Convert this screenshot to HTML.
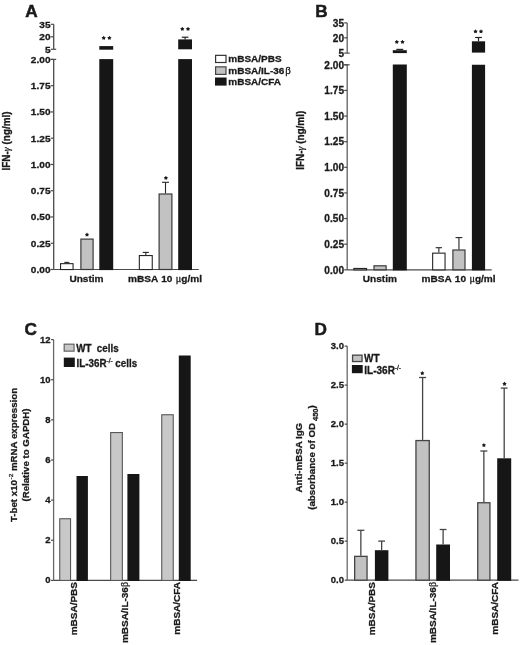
<!DOCTYPE html>
<html><head><meta charset="utf-8"><style>
html,body{margin:0;padding:0;background:#fff;}
body{width:520px;height:645px;overflow:hidden;}
svg{display:block;font-family:"Liberation Sans", sans-serif;}
#w{width:520px;height:645px;will-change:transform;}
text{stroke:#1a1a1a;stroke-width:0.3px;}
</style></head><body>
<div id="w"><svg width="520" height="645" viewBox="0 0 520 645">

<text transform="translate(25.20 17.30)" font-size="17.2" text-anchor="start" font-weight="bold" fill="#1a1a1a" style="stroke-width:0.5px">A</text>
<line x1="53.70" y1="24.30" x2="53.70" y2="49.30" stroke="#4a4a4a" stroke-width="1.3"/>
<line x1="50.70" y1="24.30" x2="53.70" y2="24.30" stroke="#4a4a4a" stroke-width="1.2"/>
<text transform="translate(50.50 27.81) scale(1.0 0.97)" font-size="10.1" text-anchor="end" font-weight="bold" fill="#1a1a1a">35</text>
<line x1="50.70" y1="36.80" x2="53.70" y2="36.80" stroke="#4a4a4a" stroke-width="1.2"/>
<text transform="translate(50.50 40.31) scale(1.0 0.97)" font-size="10.1" text-anchor="end" font-weight="bold" fill="#1a1a1a">20</text>
<line x1="50.70" y1="49.30" x2="53.70" y2="49.30" stroke="#4a4a4a" stroke-width="1.2"/>
<text transform="translate(50.50 52.81) scale(1.0 0.97)" font-size="10.1" text-anchor="end" font-weight="bold" fill="#1a1a1a">5</text>
<line x1="53.70" y1="49.30" x2="56.20" y2="49.30" stroke="#4a4a4a" stroke-width="1.2"/>
<line x1="53.70" y1="59.40" x2="53.70" y2="269.50" stroke="#4a4a4a" stroke-width="1.3"/>
<line x1="50.70" y1="59.40" x2="56.20" y2="59.40" stroke="#4a4a4a" stroke-width="1.2"/>
<line x1="50.70" y1="269.50" x2="53.70" y2="269.50" stroke="#4a4a4a" stroke-width="1.2"/>
<text transform="translate(50.50 273.01) scale(1.0 0.97)" font-size="10.1" text-anchor="end" font-weight="bold" fill="#1a1a1a">0.00</text>
<line x1="50.70" y1="243.24" x2="53.70" y2="243.24" stroke="#4a4a4a" stroke-width="1.2"/>
<text transform="translate(50.50 246.75) scale(1.0 0.97)" font-size="10.1" text-anchor="end" font-weight="bold" fill="#1a1a1a">0.25</text>
<line x1="50.70" y1="216.97" x2="53.70" y2="216.97" stroke="#4a4a4a" stroke-width="1.2"/>
<text transform="translate(50.50 220.48) scale(1.0 0.97)" font-size="10.1" text-anchor="end" font-weight="bold" fill="#1a1a1a">0.50</text>
<line x1="50.70" y1="190.71" x2="53.70" y2="190.71" stroke="#4a4a4a" stroke-width="1.2"/>
<text transform="translate(50.50 194.22) scale(1.0 0.97)" font-size="10.1" text-anchor="end" font-weight="bold" fill="#1a1a1a">0.75</text>
<line x1="50.70" y1="164.45" x2="53.70" y2="164.45" stroke="#4a4a4a" stroke-width="1.2"/>
<text transform="translate(50.50 167.96) scale(1.0 0.97)" font-size="10.1" text-anchor="end" font-weight="bold" fill="#1a1a1a">1.00</text>
<line x1="50.70" y1="138.19" x2="53.70" y2="138.19" stroke="#4a4a4a" stroke-width="1.2"/>
<text transform="translate(50.50 141.70) scale(1.0 0.97)" font-size="10.1" text-anchor="end" font-weight="bold" fill="#1a1a1a">1.25</text>
<line x1="50.70" y1="111.93" x2="53.70" y2="111.93" stroke="#4a4a4a" stroke-width="1.2"/>
<text transform="translate(50.50 115.44) scale(1.0 0.97)" font-size="10.1" text-anchor="end" font-weight="bold" fill="#1a1a1a">1.50</text>
<line x1="50.70" y1="85.66" x2="53.70" y2="85.66" stroke="#4a4a4a" stroke-width="1.2"/>
<text transform="translate(50.50 89.17) scale(1.0 0.97)" font-size="10.1" text-anchor="end" font-weight="bold" fill="#1a1a1a">1.75</text>
<line x1="50.70" y1="59.40" x2="53.70" y2="59.40" stroke="#4a4a4a" stroke-width="1.2"/>
<text transform="translate(50.50 62.91) scale(1.0 0.97)" font-size="10.1" text-anchor="end" font-weight="bold" fill="#1a1a1a">2.00</text>
<line x1="53.70" y1="269.50" x2="198.80" y2="269.50" stroke="#4a4a4a" stroke-width="1.2"/>
<rect x="60.55" y="263.65" width="12.50" height="5.90" fill="#ffffff" stroke="#262626" stroke-width="1.1"/>
<line x1="66.80" y1="262.40" x2="66.80" y2="263.10" stroke="#262626" stroke-width="1.1"/>
<line x1="64.30" y1="262.40" x2="69.30" y2="262.40" stroke="#262626" stroke-width="1.1"/>
<rect x="80.90" y="239.10" width="12.20" height="30.40" fill="#c2c2c2" stroke="#3a3a3a" stroke-width="1.2"/>
<rect x="99.30" y="59.10" width="13.90" height="211.00" fill="#161616"/>
<rect x="99.30" y="46.10" width="13.90" height="3.60" fill="#161616"/>
<rect x="139.35" y="255.55" width="12.90" height="14.00" fill="#ffffff" stroke="#262626" stroke-width="1.1"/>
<line x1="145.80" y1="252.40" x2="145.80" y2="255.00" stroke="#262626" stroke-width="1.1"/>
<line x1="142.70" y1="252.40" x2="148.90" y2="252.40" stroke="#262626" stroke-width="1.1"/>
<rect x="159.10" y="194.00" width="12.80" height="75.50" fill="#c2c2c2" stroke="#3a3a3a" stroke-width="1.2"/>
<line x1="165.50" y1="182.30" x2="165.50" y2="193.40" stroke="#262626" stroke-width="1.1"/>
<line x1="162.00" y1="182.30" x2="169.00" y2="182.30" stroke="#262626" stroke-width="1.1"/>
<rect x="178.20" y="59.10" width="13.80" height="211.00" fill="#161616"/>
<rect x="178.20" y="39.40" width="13.80" height="9.90" fill="#161616"/>
<line x1="185.10" y1="37.20" x2="185.10" y2="39.40" stroke="#222" stroke-width="1.2"/>
<line x1="181.80" y1="37.20" x2="188.40" y2="37.20" stroke="#222" stroke-width="1.2"/>
<polygon points="87.00,232.50 87.78,233.63 89.09,234.02 88.26,235.11 88.29,236.48 87.00,236.02 85.71,236.48 85.74,235.11 84.91,234.02 86.22,233.63" fill="#1a1a1a"/>
<polygon points="103.70,35.80 104.48,36.93 105.79,37.32 104.96,38.41 104.99,39.78 103.70,39.32 102.41,39.78 102.44,38.41 101.61,37.32 102.92,36.93" fill="#1a1a1a"/>
<polygon points="109.40,35.80 110.18,36.93 111.49,37.32 110.66,38.41 110.69,39.78 109.40,39.32 108.11,39.78 108.14,38.41 107.31,37.32 108.62,36.93" fill="#1a1a1a"/>
<polygon points="165.90,175.80 166.68,176.93 167.99,177.32 167.16,178.41 167.19,179.78 165.90,179.32 164.61,179.78 164.64,178.41 163.81,177.32 165.12,176.93" fill="#1a1a1a"/>
<polygon points="182.30,26.80 183.08,27.93 184.39,28.32 183.56,29.41 183.59,30.78 182.30,30.32 181.01,30.78 181.04,29.41 180.21,28.32 181.52,27.93" fill="#1a1a1a"/>
<polygon points="188.00,26.80 188.78,27.93 190.09,28.32 189.26,29.41 189.29,30.78 188.00,30.32 186.71,30.78 186.74,29.41 185.91,28.32 187.22,27.93" fill="#1a1a1a"/>
<text transform="translate(9.80 140.90) rotate(-90) scale(1.0 1.03)" font-size="9.95" text-anchor="middle" font-weight="bold" fill="#1a1a1a">IFN-<tspan font-family="Liberation Serif" font-style="italic" font-weight="normal">γ</tspan> (ng/ml)</text>
<text transform="translate(315.30 17.10)" font-size="17.2" text-anchor="start" font-weight="bold" fill="#1a1a1a" style="stroke-width:0.5px">B</text>
<line x1="347.20" y1="22.90" x2="347.20" y2="53.10" stroke="#606060" stroke-width="1.3"/>
<line x1="344.20" y1="22.90" x2="347.20" y2="22.90" stroke="#4a4a4a" stroke-width="1.2"/>
<text transform="translate(344.00 26.61) scale(1.0 1.02)" font-size="10.1" text-anchor="end" font-weight="bold" fill="#1a1a1a">35</text>
<line x1="344.20" y1="37.80" x2="347.20" y2="37.80" stroke="#4a4a4a" stroke-width="1.2"/>
<text transform="translate(344.00 41.51) scale(1.0 1.02)" font-size="10.1" text-anchor="end" font-weight="bold" fill="#1a1a1a">20</text>
<line x1="344.20" y1="53.10" x2="347.20" y2="53.10" stroke="#4a4a4a" stroke-width="1.2"/>
<text transform="translate(344.00 56.81) scale(1.0 1.02)" font-size="10.1" text-anchor="end" font-weight="bold" fill="#1a1a1a">5</text>
<line x1="347.20" y1="53.10" x2="349.70" y2="53.10" stroke="#4a4a4a" stroke-width="1.2"/>
<line x1="347.20" y1="64.80" x2="347.20" y2="269.80" stroke="#606060" stroke-width="1.3"/>
<line x1="344.20" y1="64.80" x2="349.70" y2="64.80" stroke="#4a4a4a" stroke-width="1.2"/>
<line x1="344.20" y1="269.80" x2="347.20" y2="269.80" stroke="#4a4a4a" stroke-width="1.2"/>
<text transform="translate(344.00 273.51) scale(1.0 1.02)" font-size="10.1" text-anchor="end" font-weight="bold" fill="#1a1a1a">0.00</text>
<line x1="344.20" y1="244.18" x2="347.20" y2="244.18" stroke="#4a4a4a" stroke-width="1.2"/>
<text transform="translate(344.00 247.89) scale(1.0 1.02)" font-size="10.1" text-anchor="end" font-weight="bold" fill="#1a1a1a">0.25</text>
<line x1="344.20" y1="218.55" x2="347.20" y2="218.55" stroke="#4a4a4a" stroke-width="1.2"/>
<text transform="translate(344.00 222.26) scale(1.0 1.02)" font-size="10.1" text-anchor="end" font-weight="bold" fill="#1a1a1a">0.50</text>
<line x1="344.20" y1="192.93" x2="347.20" y2="192.93" stroke="#4a4a4a" stroke-width="1.2"/>
<text transform="translate(344.00 196.64) scale(1.0 1.02)" font-size="10.1" text-anchor="end" font-weight="bold" fill="#1a1a1a">0.75</text>
<line x1="344.20" y1="167.30" x2="347.20" y2="167.30" stroke="#4a4a4a" stroke-width="1.2"/>
<text transform="translate(344.00 171.01) scale(1.0 1.02)" font-size="10.1" text-anchor="end" font-weight="bold" fill="#1a1a1a">1.00</text>
<line x1="344.20" y1="141.68" x2="347.20" y2="141.68" stroke="#4a4a4a" stroke-width="1.2"/>
<text transform="translate(344.00 145.39) scale(1.0 1.02)" font-size="10.1" text-anchor="end" font-weight="bold" fill="#1a1a1a">1.25</text>
<line x1="344.20" y1="116.05" x2="347.20" y2="116.05" stroke="#4a4a4a" stroke-width="1.2"/>
<text transform="translate(344.00 119.76) scale(1.0 1.02)" font-size="10.1" text-anchor="end" font-weight="bold" fill="#1a1a1a">1.50</text>
<line x1="344.20" y1="90.43" x2="347.20" y2="90.43" stroke="#4a4a4a" stroke-width="1.2"/>
<text transform="translate(344.00 94.14) scale(1.0 1.02)" font-size="10.1" text-anchor="end" font-weight="bold" fill="#1a1a1a">1.75</text>
<line x1="344.20" y1="64.80" x2="347.20" y2="64.80" stroke="#4a4a4a" stroke-width="1.2"/>
<text transform="translate(344.00 68.51) scale(1.0 1.02)" font-size="10.1" text-anchor="end" font-weight="bold" fill="#1a1a1a">2.00</text>
<line x1="347.20" y1="269.80" x2="491.70" y2="269.80" stroke="#4a4a4a" stroke-width="1.2"/>
<rect x="353.85" y="268.45" width="12.70" height="1.40" fill="#ffffff" stroke="#262626" stroke-width="1.1"/>
<rect x="374.00" y="265.80" width="12.10" height="4.00" fill="#c2c2c2" stroke="#3a3a3a" stroke-width="1.2"/>
<rect x="392.80" y="64.50" width="14.00" height="205.90" fill="#161616"/>
<rect x="392.80" y="50.20" width="14.00" height="2.90" fill="#161616"/>
<line x1="399.80" y1="49.40" x2="399.80" y2="50.20" stroke="#222" stroke-width="1.2"/>
<line x1="396.30" y1="49.40" x2="403.30" y2="49.40" stroke="#222" stroke-width="1.2"/>
<rect x="432.65" y="253.15" width="12.40" height="16.70" fill="#ffffff" stroke="#262626" stroke-width="1.1"/>
<line x1="438.85" y1="247.70" x2="438.85" y2="252.60" stroke="#262626" stroke-width="1.1"/>
<line x1="435.65" y1="247.70" x2="442.05" y2="247.70" stroke="#262626" stroke-width="1.1"/>
<rect x="452.90" y="250.00" width="12.10" height="19.80" fill="#c2c2c2" stroke="#3a3a3a" stroke-width="1.2"/>
<line x1="458.95" y1="237.60" x2="458.95" y2="249.40" stroke="#262626" stroke-width="1.1"/>
<line x1="455.55" y1="237.60" x2="462.35" y2="237.60" stroke="#262626" stroke-width="1.1"/>
<rect x="471.90" y="64.75" width="13.20" height="205.65" fill="#161616"/>
<rect x="471.90" y="41.30" width="13.20" height="11.30" fill="#161616"/>
<line x1="478.50" y1="37.50" x2="478.50" y2="41.30" stroke="#222" stroke-width="1.2"/>
<line x1="475.10" y1="37.50" x2="481.90" y2="37.50" stroke="#222" stroke-width="1.2"/>
<polygon points="396.80,39.80 397.58,40.93 398.89,41.32 398.06,42.41 398.09,43.78 396.80,43.32 395.51,43.78 395.54,42.41 394.71,41.32 396.02,40.93" fill="#1a1a1a"/>
<polygon points="402.50,39.80 403.28,40.93 404.59,41.32 403.76,42.41 403.79,43.78 402.50,43.32 401.21,43.78 401.24,42.41 400.41,41.32 401.72,40.93" fill="#1a1a1a"/>
<polygon points="475.50,29.30 476.28,30.43 477.59,30.82 476.76,31.91 476.79,33.28 475.50,32.82 474.21,33.28 474.24,31.91 473.41,30.82 474.72,30.43" fill="#1a1a1a"/>
<polygon points="481.00,29.30 481.78,30.43 483.09,30.82 482.26,31.91 482.29,33.28 481.00,32.82 479.71,33.28 479.74,31.91 478.91,30.82 480.22,30.43" fill="#1a1a1a"/>
<text transform="translate(304.20 140.30) rotate(-90) scale(1.0 1.1)" font-size="9.95" text-anchor="middle" font-weight="bold" fill="#1a1a1a">IFN-<tspan font-family="Liberation Serif" font-style="italic" font-weight="normal">γ</tspan> (ng/ml)</text>
<rect x="215.60" y="55.35" width="10.40" height="7.15" fill="#ffffff" stroke="#333" stroke-width="1.2"/>
<text transform="translate(228.30 62.30) scale(1.0 0.97)" font-size="10.0" text-anchor="start" font-weight="bold" fill="#1a1a1a">mBSA/PBS</text>
<rect x="215.60" y="66.85" width="10.40" height="7.55" fill="#c2c2c2" stroke="#444444" stroke-width="1.2"/>
<text transform="translate(228.30 74.20) scale(1.0 0.97)" font-size="10.0" text-anchor="start" font-weight="bold" fill="#1a1a1a">mBSA/IL-36<tspan font-family="Liberation Serif" font-weight="normal" font-size="11" dx="0.8">β</tspan></text>
<rect x="215.00" y="77.50" width="11.60" height="8.10" fill="#161616"/>
<text transform="translate(228.30 84.80) scale(1.0 0.97)" font-size="10.0" text-anchor="start" font-weight="bold" fill="#1a1a1a">mBSA/CFA</text>
<text transform="translate(86.50 281.80) scale(1.0 0.98)" font-size="10.1" text-anchor="middle" font-weight="bold" fill="#1a1a1a">Unstim</text>
<text transform="translate(165.00 281.80) scale(1.0 0.98)" font-size="10.1" text-anchor="middle" font-weight="bold" fill="#1a1a1a" word-spacing="0.6">mBSA 10 <tspan font-family="Liberation Serif" font-weight="normal">μ</tspan>g/ml</text>
<text transform="translate(379.90 282.00) scale(1.0 0.98)" font-size="10.1" text-anchor="middle" font-weight="bold" fill="#1a1a1a">Unstim</text>
<text transform="translate(458.60 282.00) scale(1.0 0.98)" font-size="10.1" text-anchor="middle" font-weight="bold" fill="#1a1a1a" word-spacing="0.6">mBSA 10 <tspan font-family="Liberation Serif" font-weight="normal">μ</tspan>g/ml</text>
<text transform="translate(24.40 334.60)" font-size="17.2" text-anchor="start" font-weight="bold" fill="#1a1a1a" style="stroke-width:0.5px">C</text>
<line x1="53.60" y1="339.60" x2="53.60" y2="580.40" stroke="#686868" stroke-width="1.3"/>
<line x1="51.10" y1="580.40" x2="53.60" y2="580.40" stroke="#4a4a4a" stroke-width="1.2"/>
<text transform="translate(50.60 583.40)" font-size="9.5" text-anchor="end" font-weight="bold" fill="#1a1a1a">0</text>
<line x1="51.10" y1="540.27" x2="53.60" y2="540.27" stroke="#4a4a4a" stroke-width="1.2"/>
<text transform="translate(50.60 543.27)" font-size="9.5" text-anchor="end" font-weight="bold" fill="#1a1a1a">2</text>
<line x1="51.10" y1="500.13" x2="53.60" y2="500.13" stroke="#4a4a4a" stroke-width="1.2"/>
<text transform="translate(50.60 503.13)" font-size="9.5" text-anchor="end" font-weight="bold" fill="#1a1a1a">4</text>
<line x1="51.10" y1="460.00" x2="53.60" y2="460.00" stroke="#4a4a4a" stroke-width="1.2"/>
<text transform="translate(50.60 463.00)" font-size="9.5" text-anchor="end" font-weight="bold" fill="#1a1a1a">6</text>
<line x1="51.10" y1="419.87" x2="53.60" y2="419.87" stroke="#4a4a4a" stroke-width="1.2"/>
<text transform="translate(50.60 422.87)" font-size="9.5" text-anchor="end" font-weight="bold" fill="#1a1a1a">8</text>
<line x1="51.10" y1="379.73" x2="53.60" y2="379.73" stroke="#4a4a4a" stroke-width="1.2"/>
<text transform="translate(50.60 382.73)" font-size="9.5" text-anchor="end" font-weight="bold" fill="#1a1a1a">10</text>
<line x1="51.10" y1="339.60" x2="53.60" y2="339.60" stroke="#4a4a4a" stroke-width="1.2"/>
<text transform="translate(50.60 342.60)" font-size="9.5" text-anchor="end" font-weight="bold" fill="#1a1a1a">12</text>
<line x1="53.60" y1="580.40" x2="197.10" y2="580.40" stroke="#4a4a4a" stroke-width="1.2"/>
<rect x="59.75" y="518.75" width="10.80" height="61.70" fill="#c8c8c8" stroke="#585858" stroke-width="1.1"/>
<rect x="110.65" y="432.55" width="11.70" height="147.90" fill="#c8c8c8" stroke="#585858" stroke-width="1.1"/>
<rect x="161.75" y="414.75" width="11.50" height="165.70" fill="#c8c8c8" stroke="#585858" stroke-width="1.1"/>
<rect x="76.50" y="476.00" width="11.40" height="105.00" fill="#161616"/>
<rect x="127.40" y="474.00" width="12.00" height="107.00" fill="#161616"/>
<rect x="178.80" y="355.50" width="11.90" height="225.50" fill="#161616"/>
<rect x="64.15" y="344.15" width="9.90" height="7.00" fill="#c8c8c8" stroke="#585858" stroke-width="1.1"/>
<rect x="63.80" y="357.60" width="11.00" height="9.40" fill="#161616"/>
<text transform="translate(76.20 351.50) scale(1.0 1.02)" font-size="9.8" text-anchor="start" font-weight="bold" fill="#1a1a1a">WT&#160; cells</text>
<text transform="translate(76.60 366.80) scale(1.0 1.02)" font-size="9.8" text-anchor="start" font-weight="bold" fill="#1a1a1a">IL-36R<tspan font-size="6.5" font-weight="normal" dy="-4">-/-</tspan><tspan dy="4"> cells</tspan></text>
<text transform="translate(17.40 455.00) rotate(-90) scale(1.0 0.93)" font-size="9.7" text-anchor="middle" font-weight="bold" fill="#1a1a1a">T-bet x10<tspan font-size="6.5" font-weight="normal" dx="0.5" dy="-4.8">-2</tspan><tspan dy="4.8"> mRNA expression</tspan></text>
<text transform="translate(29.20 455.00) rotate(-90) scale(1.0 0.93)" font-size="9.7" text-anchor="middle" font-weight="bold" fill="#1a1a1a">(Relative to GAPDH)</text>
<text transform="translate(77.00 582.00) rotate(-90) scale(1.0 0.93)" font-size="10.0" text-anchor="end" font-weight="bold" fill="#1a1a1a">mBSA/PBS</text>
<text transform="translate(128.20 582.00) rotate(-90) scale(1.0 0.93)" font-size="10.0" text-anchor="end" font-weight="bold" fill="#1a1a1a">mBSA/IL-36<tspan font-family="Liberation Serif" font-weight="normal">β</tspan></text>
<text transform="translate(179.50 582.00) rotate(-90) scale(1.0 0.93)" font-size="10.0" text-anchor="end" font-weight="bold" fill="#1a1a1a">mBSA/CFA</text>
<text transform="translate(314.40 334.80)" font-size="17.2" text-anchor="start" font-weight="bold" fill="#1a1a1a" style="stroke-width:0.5px">D</text>
<line x1="347.20" y1="346.10" x2="347.20" y2="580.20" stroke="#686868" stroke-width="1.3"/>
<line x1="344.70" y1="580.20" x2="347.20" y2="580.20" stroke="#4a4a4a" stroke-width="1.2"/>
<text transform="translate(344.00 583.20)" font-size="9.5" text-anchor="end" font-weight="bold" fill="#1a1a1a">0.0</text>
<line x1="344.70" y1="541.18" x2="347.20" y2="541.18" stroke="#4a4a4a" stroke-width="1.2"/>
<text transform="translate(344.00 544.18)" font-size="9.5" text-anchor="end" font-weight="bold" fill="#1a1a1a">0.5</text>
<line x1="344.70" y1="502.17" x2="347.20" y2="502.17" stroke="#4a4a4a" stroke-width="1.2"/>
<text transform="translate(344.00 505.17)" font-size="9.5" text-anchor="end" font-weight="bold" fill="#1a1a1a">1.0</text>
<line x1="344.70" y1="463.15" x2="347.20" y2="463.15" stroke="#4a4a4a" stroke-width="1.2"/>
<text transform="translate(344.00 466.15)" font-size="9.5" text-anchor="end" font-weight="bold" fill="#1a1a1a">1.5</text>
<line x1="344.70" y1="424.13" x2="347.20" y2="424.13" stroke="#4a4a4a" stroke-width="1.2"/>
<text transform="translate(344.00 427.13)" font-size="9.5" text-anchor="end" font-weight="bold" fill="#1a1a1a">2.0</text>
<line x1="344.70" y1="385.12" x2="347.20" y2="385.12" stroke="#4a4a4a" stroke-width="1.2"/>
<text transform="translate(344.00 388.12)" font-size="9.5" text-anchor="end" font-weight="bold" fill="#1a1a1a">2.5</text>
<line x1="344.70" y1="346.10" x2="347.20" y2="346.10" stroke="#4a4a4a" stroke-width="1.2"/>
<text transform="translate(344.00 349.10)" font-size="9.5" text-anchor="end" font-weight="bold" fill="#1a1a1a">3.0</text>
<line x1="347.20" y1="580.20" x2="518.50" y2="580.20" stroke="#4a4a4a" stroke-width="1.2"/>
<rect x="354.65" y="556.35" width="12.40" height="23.80" fill="#c2c2c2" stroke="#444444" stroke-width="1.3"/>
<line x1="360.85" y1="530.30" x2="360.85" y2="555.70" stroke="#454545" stroke-width="1.3"/>
<line x1="357.35" y1="530.30" x2="364.35" y2="530.30" stroke="#454545" stroke-width="1.3"/>
<rect x="415.95" y="440.55" width="13.30" height="139.60" fill="#c2c2c2" stroke="#444444" stroke-width="1.3"/>
<line x1="422.60" y1="377.50" x2="422.60" y2="439.90" stroke="#454545" stroke-width="1.3"/>
<line x1="419.10" y1="377.50" x2="426.10" y2="377.50" stroke="#454545" stroke-width="1.3"/>
<rect x="477.75" y="502.75" width="12.20" height="77.40" fill="#c2c2c2" stroke="#444444" stroke-width="1.3"/>
<line x1="483.85" y1="451.00" x2="483.85" y2="502.10" stroke="#454545" stroke-width="1.3"/>
<line x1="480.35" y1="451.00" x2="487.35" y2="451.00" stroke="#454545" stroke-width="1.3"/>
<rect x="374.90" y="550.20" width="13.50" height="30.60" fill="#161616"/>
<line x1="381.65" y1="541.10" x2="381.65" y2="550.20" stroke="#454545" stroke-width="1.3"/>
<line x1="378.25" y1="541.10" x2="385.05" y2="541.10" stroke="#454545" stroke-width="1.3"/>
<rect x="436.20" y="544.50" width="13.80" height="36.30" fill="#161616"/>
<line x1="443.10" y1="529.50" x2="443.10" y2="544.50" stroke="#454545" stroke-width="1.3"/>
<line x1="439.70" y1="529.50" x2="446.50" y2="529.50" stroke="#454545" stroke-width="1.3"/>
<rect x="497.20" y="458.30" width="14.00" height="122.50" fill="#161616"/>
<line x1="504.20" y1="388.10" x2="504.20" y2="458.30" stroke="#454545" stroke-width="1.3"/>
<line x1="500.80" y1="388.10" x2="507.60" y2="388.10" stroke="#454545" stroke-width="1.3"/>
<polygon points="422.30,371.00 423.08,372.13 424.39,372.52 423.56,373.61 423.59,374.98 422.30,374.52 421.01,374.98 421.04,373.61 420.21,372.52 421.52,372.13" fill="#1a1a1a"/>
<polygon points="483.90,443.00 484.68,444.13 485.99,444.52 485.16,445.61 485.19,446.98 483.90,446.52 482.61,446.98 482.64,445.61 481.81,444.52 483.12,444.13" fill="#1a1a1a"/>
<polygon points="504.50,381.70 505.28,382.83 506.59,383.22 505.76,384.31 505.79,385.68 504.50,385.22 503.21,385.68 503.24,384.31 502.41,383.22 503.72,382.83" fill="#1a1a1a"/>
<rect x="352.55" y="355.15" width="9.50" height="6.40" fill="#c2c2c2" stroke="#444444" stroke-width="1.3"/>
<rect x="351.90" y="365.00" width="10.80" height="8.20" fill="#161616"/>
<text transform="translate(364.00 362.00)" font-size="10.0" text-anchor="start" font-weight="bold" fill="#1a1a1a">WT</text>
<text transform="translate(364.30 373.60)" font-size="10.0" text-anchor="start" font-weight="bold" fill="#1a1a1a">IL-36R<tspan font-size="6.5" font-weight="normal" dy="-4">-/-</tspan></text>
<text transform="translate(301.60 457.70) rotate(-90) scale(1.0 0.93)" font-size="9.7" text-anchor="middle" font-weight="bold" fill="#1a1a1a">Anti-mBSA IgG</text>
<text transform="translate(315.10 457.50) rotate(-90) scale(1.0 0.93)" font-size="9.7" text-anchor="middle" font-weight="bold" fill="#1a1a1a">(absorbance of OD<tspan font-size="7.5" dy="2.8"> 450</tspan><tspan dy="-2.8">)</tspan></text>
<text transform="translate(375.30 582.00) rotate(-90) scale(1.0 0.93)" font-size="10.0" text-anchor="end" font-weight="bold" fill="#1a1a1a">mBSA/PBS</text>
<text transform="translate(435.50 582.00) rotate(-90) scale(1.0 0.93)" font-size="10.0" text-anchor="end" font-weight="bold" fill="#1a1a1a">mBSA/IL-36<tspan font-family="Liberation Serif" font-weight="normal">β</tspan></text>
<text transform="translate(497.60 582.00) rotate(-90) scale(1.0 0.93)" font-size="10.0" text-anchor="end" font-weight="bold" fill="#1a1a1a">mBSA/CFA</text>
</svg></div>
</body></html>
